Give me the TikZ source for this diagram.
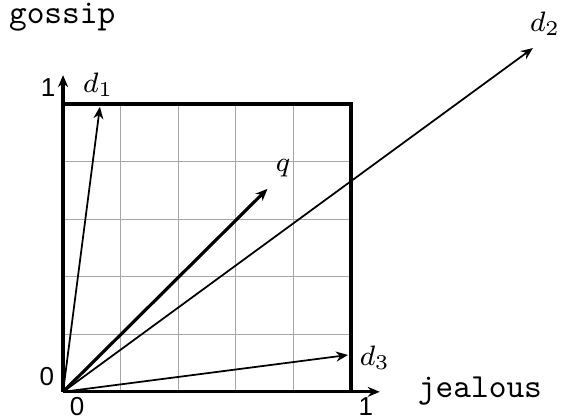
\documentclass[tikz,border=0pt]{standalone}
\usepackage{fontspec}
\newfontfamily\digitfont{Liberation Sans}
\usetikzlibrary{arrows.meta,positioning}

\begin{document}
\begin{tikzpicture}[x=2.88cm, y=2.88cm, >={Stealth[length=1.2mm,width=1mm]},
  vec/.style={->, line width=0.5pt},
  qvec/.style={->, line width=0.9pt},
  tick/.style={font=\digitfont\fontsize{7.4}{9}\selectfont, inner sep=0pt},
  term/.style={font=\ttfamily\fontsize{9.6}{11}\selectfont, inner sep=0pt},
  lbl/.style={font=\fontsize{8.3}{10}\selectfont, inner sep=0pt}]
\useasboundingbox (-0.219,-0.0903) rectangle (1.733,1.361);

% --- grid and unit square ---
\draw[gray!70, line width=0.3pt] (0,0) grid[step=0.2] (1,1);
\draw[line width=0.9pt] (0,1) -- (1,1) -- (1,0);

% --- axes ---
\coordinate (o) at (0,0);
\coordinate (xend) at (1.1,0);
\coordinate (yend) at (0,1.1);
\draw[->, line width=0.9pt] (o) -- (xend);
\draw[->, line width=0.9pt] (o) -- (yend);
\node[term] (gossip) at (-0.003,1.30) {gossip};
\node[term] (jealous) at (1.448,0.003) {jealous};

% --- tick labels ---
\node[tick] (y1) at (-0.052,1.056) {1};
\node[tick] (y0) at (-0.056,0.052) {0};
\node[tick] (x0) at (0.049,-0.05) {0};
\node[tick] (x1) at (1.052,-0.05) {1};

% --- vectors ---
\coordinate (d1) at (0.128,0.99);
\coordinate (d2) at (1.632,1.194);
\coordinate (d3) at (0.99,0.128);
\coordinate (q) at (0.71,0.705);
\draw[vec] (o) -- (d1);
\draw[vec] (o) -- (d2);
\draw[vec] (o) -- (d3);
\draw[qvec] (o) -- (q);
\node[lbl] (d1lbl) at (0.122,1.066) {$d_1$};
\node[lbl] (d2lbl) at (1.674,1.278) {$d_2$};
\node[lbl] (d3lbl) at (1.083,0.118) {$d_3$};
\node[lbl] (qlbl) at (0.764,0.778) {$q$};
\end{tikzpicture}
\end{document}
